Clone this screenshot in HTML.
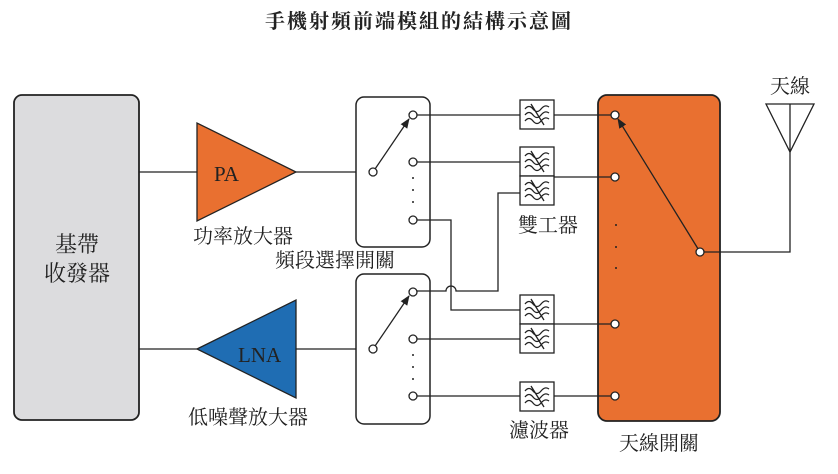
<!DOCTYPE html>
<html><head><meta charset="utf-8"><style>
body{margin:0;background:#fff}
svg text{font-family:"Liberation Serif","Noto Serif CJK SC",serif;fill:#222}
</style></head><body>
<svg width="838" height="469" viewBox="0 0 838 469" xmlns="http://www.w3.org/2000/svg">
<defs><marker id="ah" markerWidth="10" markerHeight="10" refX="9" refY="5" orient="auto" markerUnits="userSpaceOnUse"><path d="M0,1 L10,5 L0,9 z" fill="#222"/></marker>
<g id="flt"><rect x="0" y="0" width="34" height="29" fill="#fff" stroke="#222" stroke-width="1.3"/>
<path d="M5,9 q4,-5 8,0 t8,0 t8,-2 M5,15 q4,-5 8,0 t8,0 t8,-2 M5,21 q4,-5 8,0 t8,0 t8,-2 M11,4 L24,25" fill="none" stroke="#222" stroke-width="1.3"/></g></defs>
<text x="419" y="28" font-size="20" font-weight="bold" letter-spacing="2" text-anchor="middle">手機射頻前端模組的結構示意圖</text>
<rect x="14" y="95" width="125" height="325" rx="8" fill="#dcdcde" stroke="#222" stroke-width="1.8"/>
<text x="77" y="252" font-size="22" text-anchor="middle">基帶</text>
<text x="77" y="281" font-size="22" text-anchor="middle">收發器</text>
<g stroke="#222" stroke-width="1.3" fill="none">
<line x1="139" y1="172" x2="197" y2="172"/><line x1="296" y1="172" x2="373" y2="172"/>
<line x1="139" y1="349" x2="197" y2="349"/><line x1="296" y1="349" x2="373" y2="349"/>
</g>
<polygon points="197,123 197,221 296,172" fill="#e97030" stroke="#222" stroke-width="1.3"/>
<text x="214" y="181" font-size="21">PA</text>
<polygon points="197,349 296,300 296,398" fill="#1f6db3" stroke="#222" stroke-width="1.3"/>
<text x="238" y="362" font-size="21">LNA</text>
<text x="243" y="243" font-size="20" text-anchor="middle">功率放大器</text>
<text x="248" y="424" font-size="20" text-anchor="middle">低噪聲放大器</text>
<rect x="356" y="97" width="74" height="150" rx="8" fill="#fff" stroke="#222" stroke-width="1.5"/>
<rect x="356" y="274" width="74" height="150" rx="8" fill="#fff" stroke="#222" stroke-width="1.5"/>
<text x="335" y="267" font-size="20" text-anchor="middle">頻段選擇開關</text>
<rect x="598" y="95" width="122" height="326" rx="9" fill="#e97030" stroke="#222" stroke-width="1.8"/>
<g stroke="#222" stroke-width="1.3" fill="none">
<line x1="413" y1="115" x2="615" y2="115"/>
<line x1="413" y1="162" x2="520" y2="162"/>
<line x1="554" y1="177" x2="615" y2="177"/>
<path d="M520,193 H498 V291 H456 a5,5 0 0 0 -10,0 H413"/>
<path d="M413,220 H451 V310 H520"/>
<line x1="413" y1="339" x2="520" y2="339"/>
<line x1="554" y1="324" x2="615" y2="324"/>
<line x1="413" y1="396" x2="615" y2="396"/>
<path d="M700,252 H790 V104"/>
<path d="M766,104 H814 L790,152 Z"/>
<line x1="373" y1="172" x2="409" y2="119" marker-end="url(#ah)"/>
<line x1="373" y1="349" x2="409" y2="296" marker-end="url(#ah)"/>
<line x1="700" y1="252" x2="618" y2="119" marker-end="url(#ah)"/>
</g>
<use href="#flt" x="520" y="100"/><use href="#flt" x="520" y="147"/><use href="#flt" x="520" y="176"/>
<use href="#flt" x="520" y="295"/><use href="#flt" x="520" y="324"/><use href="#flt" x="520" y="382"/>
<g fill="#fff" stroke="#222" stroke-width="1.3">
<circle cx="373" cy="172" r="4"/><circle cx="413" cy="115" r="4"/><circle cx="413" cy="162" r="4"/><circle cx="413" cy="220" r="4"/>
<circle cx="373" cy="349" r="4"/><circle cx="413" cy="292" r="4"/><circle cx="413" cy="339" r="4"/><circle cx="413" cy="396" r="4"/>
<circle cx="615" cy="115" r="4"/><circle cx="615" cy="177" r="4"/><circle cx="615" cy="324" r="4"/><circle cx="615" cy="396" r="4"/>
<circle cx="700" cy="252" r="4"/>
</g>
<g fill="#222"><circle cx="413" cy="178" r="1"/><circle cx="413" cy="190" r="1"/><circle cx="413" cy="202" r="1"/>
<circle cx="413" cy="355" r="1"/><circle cx="413" cy="367" r="1"/><circle cx="413" cy="379" r="1"/>
<circle cx="616" cy="225" r="1"/><circle cx="616" cy="247" r="1"/><circle cx="616" cy="268" r="1"/></g>
<text x="548" y="232" font-size="20" text-anchor="middle">雙工器</text>
<text x="539" y="437" font-size="20" text-anchor="middle">濾波器</text>
<text x="659" y="450" font-size="20" text-anchor="middle">天線開關</text>
<text x="790" y="93" font-size="20" text-anchor="middle">天線</text>
</svg>
</body></html>
